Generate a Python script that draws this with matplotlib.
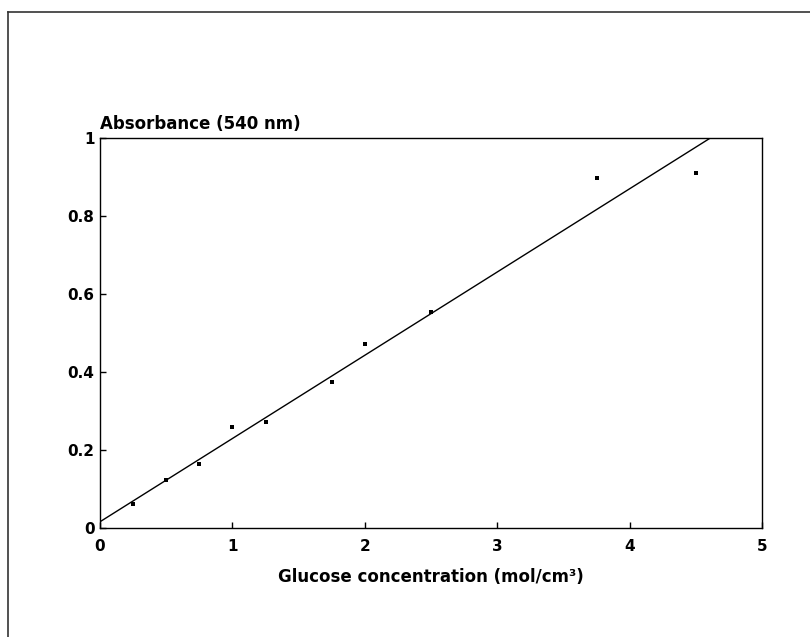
import matplotlib
matplotlib.use("Agg")
import matplotlib.pyplot as plt
from matplotlib.lines import Line2D

# Data
glucose = [0.25, 0.5, 0.75, 1.0, 1.25, 1.75, 2.0, 2.5, 3.75, 4.5]
absorbance = [0.061, 0.123, 0.163, 0.258, 0.271, 0.375, 0.472, 0.553, 0.898, 0.909]
fit_x = [0.0, 4.61]
fit_y = [0.016, 1.0]
x_ticks = [0, 1, 2, 3, 4, 5]
y_ticks = [0, 0.2, 0.4, 0.6, 0.8, 1]
y_tick_labels = ["0", "0.2", "0.4", "0.6", "0.8", "1"]

plt.rcParams['font.family'] = ['DejaVu Sans']
plt.rcParams['font.weight'] = 'bold'

FS_TICK = 11
FS_LABEL = 12

fig = plt.figure(figsize=(8.1, 6.37), dpi=100)
ax = fig.add_axes([100 / 810, 1 - 528 / 637, 662 / 810, 390 / 637])

ax.plot(fit_x, fit_y, color='black', linewidth=1.0, clip_on=True)
ax.plot(glucose, absorbance, linestyle='none', marker='s', markersize=2.6,
        markeredgewidth=0, color='black')

ax.set_xlim(0, 5)
ax.set_ylim(0, 1)
ax.set_xticks(x_ticks)
ax.set_xticklabels([str(v) for v in x_ticks])
ax.set_yticks(y_ticks)
ax.set_yticklabels(y_tick_labels)
ax.tick_params(axis='both', direction='in', length=4, width=1.0,
               labelsize=FS_TICK, top=False, right=False, colors='black')
ax.tick_params(axis='x', pad=8)
ax.tick_params(axis='y', pad=4)
for lab in ax.get_xticklabels() + ax.get_yticklabels():
    lab.set_fontweight('bold')
for sp in ax.spines.values():
    sp.set_linewidth(1.0)
    sp.set_color('black')

ax.set_xlabel("Glucose concentration (mol/cm³)", fontsize=FS_LABEL,
              fontweight='bold', labelpad=10)
ax.text(0.0, 1.012, "Absorbance (540 nm)", transform=ax.transAxes,
        ha='left', va='bottom', fontsize=FS_LABEL, fontweight='bold')

# Scan frame lines (top and left)
fig.add_artist(Line2D([8 / 810, 8 / 810], [0, 1 - 12 / 637],
                      transform=fig.transFigure, color='#333333', linewidth=1.2))
fig.add_artist(Line2D([8 / 810, 1], [1 - 12 / 637, 1 - 12 / 637],
                      transform=fig.transFigure, color='#333333', linewidth=1.2))

fig.savefig("out.png", dpi=100, facecolor='white')
